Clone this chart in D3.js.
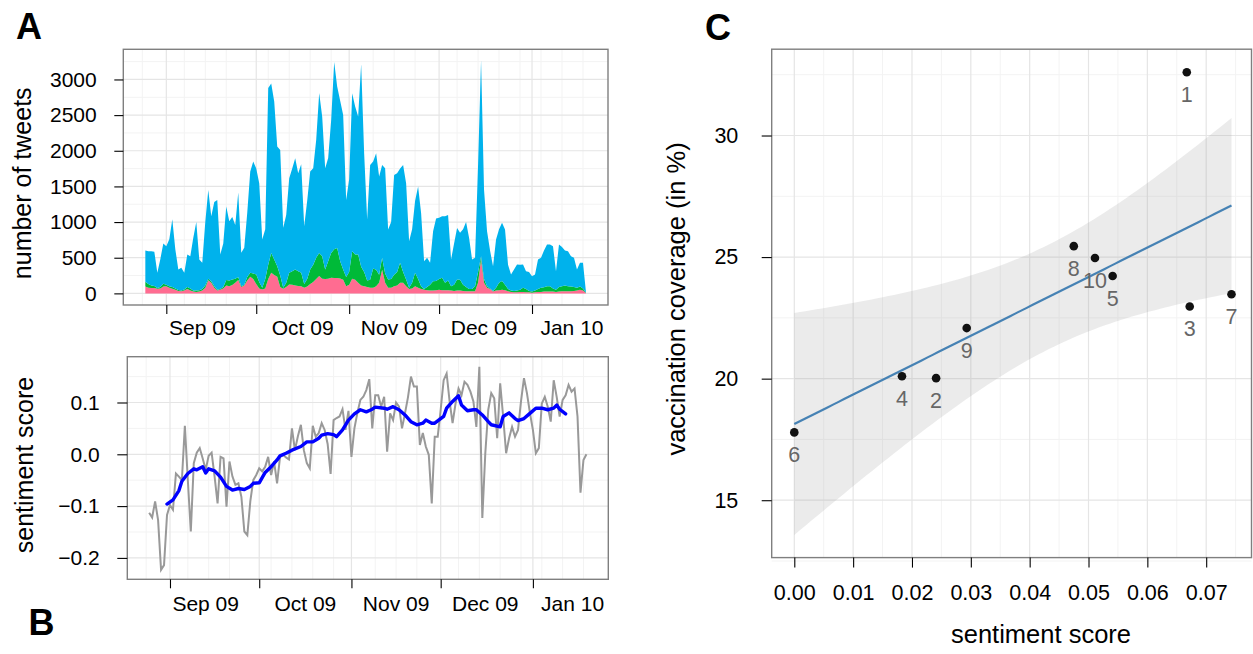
<!DOCTYPE html>
<html>
<head>
<meta charset="utf-8">
<title>Tweets, sentiment and vaccination coverage</title>
<script src="https://d3js.org/d3.v7.min.js"></script>
<style>
  body { margin: 0; background: #fff; }
  svg text { font-family: "Liberation Sans", Arial, Helvetica, sans-serif; }
</style>
</head>
<body>
<svg width="1253" height="654"></svg>
<script>
// ---- data: daily tweet counts from 25 Aug 2009, stacked pink / green / blue
const firstDay = Date.UTC(2009, 7, 25);

const pinkTweets = [
  95,80,75,75,65,70,95,100,80,65, 50,35,30,40,60,40,25,20,25,40,
  80,185,150,80,40,50,70,110,100,116, 150,186,90,110,180,233,200,130,70,56,
  70,200,290,256,233,90,65,90,126,120, 110,105,100,80,95,130,160,200,242,205,
  200,205,219,215,215,210,190,100,120,205, 190,150,112,100,90,80,80,100,150,330,
  150,80,80,100,110,150,150,100,60,70, 100,80,60,50,45,40,40,45,50,45,
  45,45,40,35,40,40,35,30,30,30, 30,150,475,150,80,60,25,40,45,50,
  45,30,20,15,15,20,20,15,15,10, 15,20,20,25,25,25,25,20,25,30,
  30,30,30,35,40,50,40,5
];
const greenTweets = [
  68,50,35,30,10,20,40,20,20,25, 20,12,10,15,30,30,15,20,20,20,
  30,20,20,20,10,10,20,76,80,80, 55,44,10,10,50,57,80,135,90,24,
  130,200,278,219,147,160,15,60,164,190, 225,205,190,50,105,205,240,300,326,315,
  135,245,349,405,423,240,145,130,180,387, 355,395,260,200,90,110,270,230,110,168,
  130,116,120,160,190,278,150,96,20,80, 190,120,40,10,45,80,130,127,150,174,
  105,135,60,85,156,150,85,60,30,30, 70,150,45,50,20,10,10,40,105,122,
  75,30,20,20,25,30,60,45,20,15, 25,40,60,60,75,75,45,30,65,70,
  80,70,65,55,40,45,30,5
];
const blueTweets = [
  437,460,480,480,215,390,565,540,660,950, 550,288,320,235,455,450,740,960,430,370,
  890,1245,910,1180,1260,485,610,1034,830,874, 755,1185,470,520,900,1420,1570,1485,1385,675,
  700,2480,2377,2215,1680,1760,840,950,1325,1440, 1560,1375,1520,810,1100,1375,1355,1650,2242,1960,
  1420,1450,1862,2625,2262,2250,2165,1080,1300,2213, 2075,1935,2843,1665,855,1610,1500,1635,1380,1302,
  1475,699,800,1400,1385,1322,1500,1349,650,750, 1010,1300,1027,390,410,310,700,878,860,861,
  930,920,375,580,722,660,780,910,720,415, 400,1500,2750,1250,770,530,345,675,750,818,
  775,340,225,300,365,350,325,250,265,215, 225,415,420,515,585,585,590,260,595,550,
  490,490,425,410,255,335,360,10
];
const tweetTicks = [0, 500, 1000, 1500, 2000, 2500, 3000];

// daily sentiment score (grey) and its running smooth (blue)
const dailySentiment = [
  -0.113,-0.122,-0.091,-0.127,-0.223,-0.214,-0.117,-0.098,-0.107,-0.037,
  -0.043,-0.050,0.055,-0.050,-0.149,-0.017,0.003,0.012,-0.008,-0.030,
  -0.003,0.003,-0.043,-0.095,-0.005,-0.008,-0.101,-0.014,-0.043,-0.059,
  -0.056,-0.082,-0.149,-0.156,-0.091,-0.050,-0.040,-0.027,-0.033,-0.024,
  -0.005,-0.040,-0.014,-0.056,-0.005,-0.001,-0.006,-0.010,0.050,0.008,
  0.035,0.057,0.008,-0.017,-0.027,0.055,0.034,0.041,0.060,0.047,
  0.020,-0.038,0.066,0.070,0.073,0.087,0.047,0.084,-0.005,0.050,
  0.080,0.105,0.111,0.124,0.145,0.050,0.114,0.114,0.092,0.111,
  0.005,0.079,0.066,0.100,0.092,0.050,0.079,0.110,0.150,0.131,
  0.131,0.018,0.041,0.015,-0.001,-0.095,0.034,0.034,0.086,0.143,
  0.156,0.102,0.060,0.098,0.127,0.114,0.140,0.134,0.121,0.102,
  0.053,0.169,-0.123,0.002,0.086,0.118,0.108,0.031,0.137,0.073,
  0.002,0.031,0.053,0.034,0.047,0.102,0.147,0.118,0.080,0.047,
  0.002,0.012,0.098,0.111,0.092,0.063,0.143,0.111,0.073,0.105,
  0.114,0.134,0.121,0.127,0.073,-0.074,-0.011,0.000
];
const smoothDay = [6,8,10,11,13,15,16,18,19,20,22,24,26,28,30,32,34,35,37,39,
  41,43,44,46,48,51,53,55,57,58,60,62,63,65,67,69,71,73,75,76,
  79,80,82,84,86,88,90,92,93,95,96,99,100,102,104,105,107,109,110,112,
  114,115,118,119,121,123,124,126,128,130,132,134,136,137,138,140];
const smoothSentiment = [-0.096,-0.088,-0.070,-0.052,-0.037,-0.028,-0.030,-0.024,-0.036,-0.028,
  -0.032,-0.044,-0.062,-0.069,-0.066,-0.068,-0.062,-0.056,-0.055,-0.035,
  -0.024,-0.011,-0.003,0.002,0.008,0.015,0.024,0.024,0.031,0.037,
  0.040,0.038,0.034,0.047,0.066,0.078,0.086,0.082,0.087,0.091,
  0.089,0.087,0.092,0.086,0.076,0.063,0.057,0.060,0.066,0.060,
  0.060,0.073,0.089,0.102,0.113,0.095,0.084,0.086,0.086,0.076,
  0.063,0.057,0.053,0.073,0.080,0.069,0.065,0.069,0.079,0.089,
  0.089,0.086,0.089,0.095,0.087,0.078];
const sentimentTicks = [-0.2, -0.1, 0, 0.1];

const monthLabels = ["Sep 09", "Oct 09", "Nov 09", "Dec 09", "Jan 10"];
const monthLabelAt = [Date.UTC(2009,8,13), Date.UTC(2009,9,16,12), Date.UTC(2009,10,16),
  Date.UTC(2009,11,16), Date.UTC(2010,0,14,8)];

// panel C: regions
const regionLabel = ["1","2","3","4","5","6","7","8","9","10"];
const regionSentiment = [0.0667, 0.0241, 0.0672, 0.0183, 0.0541, 0.0000, 0.0743, 0.0475, 0.0293, 0.0511];
const regionCoverage = [32.60, 20.02, 22.97, 20.10, 24.22, 17.79, 23.47, 25.45, 22.08, 24.96];
const coverageTicks = [15, 20, 25, 30];
const scoreTicks = [0, 0.01, 0.02, 0.03, 0.04, 0.05, 0.06, 0.07];

// ---- helpers
const svg = d3.select("svg");
const day = i => new Date(firstDay + i * 864e5);
const dates = pinkTweets.map((v, i) => day(i));
const MAJOR = "#e5e5e5", MINOR = "#f3f3f3";

svg.append("rect").attr("width", 1253).attr("height", 654).attr("fill", "#fff");

function grid(g, x, y, box, xMaj, xMin, yMaj, yMin) {
  const v = (vals, col, w) => g.append("g").selectAll("line").data(vals).join("line")
    .attr("x1", d => x(d)).attr("x2", d => x(d)).attr("y1", box.t).attr("y2", box.b)
    .attr("stroke", col).attr("stroke-width", w);
  const h = (vals, col, w) => g.append("g").selectAll("line").data(vals).join("line")
    .attr("y1", d => y(d)).attr("y2", d => y(d)).attr("x1", box.l).attr("x2", box.r)
    .attr("stroke", col).attr("stroke-width", w);
  v(xMin, MINOR, 1); h(yMin, MINOR, 1);
  v(xMaj, MAJOR, 1.2); h(yMaj, MAJOR, 1.2);
}

function frame(g, box) {
  g.append("rect").attr("x", box.l).attr("y", box.t)
    .attr("width", box.r - box.l).attr("height", box.b - box.t)
    .attr("fill", "none").attr("stroke", "#7f7f7f").attr("stroke-width", 1.4);
}

function styleAxis(a) {
  a.select(".domain").remove();
  a.selectAll("line").attr("stroke", "#000").attr("stroke-width", 1.1);
  a.selectAll("text").attr("font-size", 21).attr("fill", "#000");
}

const monthStarts = d3.utcMonth.range(Date.UTC(2009, 8, 1), Date.UTC(2010, 0, 2));
const mondays = d3.utcMonday.range(Date.UTC(2009, 7, 20), Date.UTC(2010, 0, 20)).filter(d => {
  const since = (d - d3.utcMonth.floor(d)) / 864e5;
  const until = (d3.utcMonth.ceil(d) - d) / 864e5;
  return since > 1 && until > 3;
});

// ---- panel A: number of tweets
const boxA = {l: 123.3, r: 608, t: 49.3, b: 305};
const xA = d3.scaleUtc().domain([day(-7.35), day(154.35)]).range([boxA.l, boxA.r]);
const yA = d3.scaleLinear().domain([-163, 3423]).range([boxA.b, boxA.t]);
const gA = svg.append("g");
grid(gA, xA, yA, boxA, monthStarts, mondays, tweetTicks, d3.range(250, 3300, 500));

const rows = dates.map((d, i) => ({date: d, pink: pinkTweets[i], green: greenTweets[i], blue: blueTweets[i]}));
const stacked = d3.stack().keys(["pink", "green", "blue"])(rows);
const fills = {pink: "#ff6c91", green: "#00ba38", blue: "#00b2ec"};
const area = d3.area().x(d => xA(d.data.date)).y0(d => yA(d[0])).y1(d => yA(d[1]));
gA.selectAll(".layer").data(stacked).join("path")
  .attr("class", "layer").attr("d", area).attr("fill", d => fills[d.key]);
frame(gA, boxA);

gA.append("g").attr("transform", `translate(${boxA.l},0)`)
  .call(d3.axisLeft(yA).tickValues(tweetTicks).tickFormat(d3.format("d")).tickSize(9).tickPadding(17.6))
  .call(styleAxis);
gA.append("g").attr("transform", `translate(0,${boxA.b})`)
  .call(d3.axisBottom(xA).tickValues(monthStarts).tickFormat(() => "").tickSize(9)).call(styleAxis);
gA.selectAll(".mlab").data(monthLabels).join("text").attr("class", "mlab")
  .attr("x", (d, i) => xA(monthLabelAt[i])).attr("y", 334.5)
  .attr("text-anchor", "middle").attr("font-size", 21).text(d => d);
gA.append("text").attr("transform", "translate(31,183.3) rotate(-90)")
  .attr("text-anchor", "middle").attr("font-size", 25).text("number of tweets");

// ---- panel B: sentiment score
const boxB = {l: 127.3, r: 608.3, t: 356.7, b: 579.3};
const xB = d3.scaleUtc().domain(xA.domain()).range([boxB.l, boxB.r]);
const yB = d3.scaleLinear().domain([-0.2413, 0.1884]).range([boxB.b, boxB.t]);
const gB = svg.append("g");
grid(gB, xB, yB, boxB, monthStarts, mondays, sentimentTicks, [-0.15, -0.05, 0.05, 0.15]);

gB.append("path").datum(dailySentiment)
  .attr("d", d3.line().x((d, i) => xB(day(i))).y(d => yB(d)))
  .attr("fill", "none").attr("stroke", "#999").attr("stroke-width", 2);
gB.append("path").datum(smoothSentiment)
  .attr("d", d3.line().x((d, i) => xB(day(smoothDay[i]))).y(d => yB(d)))
  .attr("fill", "none").attr("stroke", "#0000ff").attr("stroke-width", 3.4)
  .attr("stroke-linejoin", "round").attr("stroke-linecap", "round");
frame(gB, boxB);

gB.append("g").attr("transform", `translate(${boxB.l},0)`)
  .call(d3.axisLeft(yB).tickValues(sentimentTicks).tickFormat(d3.format(".1f")).tickSize(10).tickPadding(17.5))
  .call(styleAxis);
gB.append("g").attr("transform", `translate(0,${boxB.b})`)
  .call(d3.axisBottom(xB).tickValues(monthStarts).tickFormat(() => "").tickSize(9)).call(styleAxis);
gB.selectAll(".mlab").data(monthLabels).join("text").attr("class", "mlab")
  .attr("x", (d, i) => xB(monthLabelAt[i])).attr("y", 610.5)
  .attr("text-anchor", "middle").attr("font-size", 21).text(d => d);
gB.append("text").attr("transform", "translate(33.3,465) rotate(-90)")
  .attr("text-anchor", "middle").attr("font-size", 25).text("sentiment score");

// ---- panel C: vaccination coverage vs sentiment
const boxC = {l: 771.7, r: 1251.5, t: 49.2, b: 557.6};
const xC = d3.scaleLinear().domain([-0.00384, 0.0777]).range([boxC.l, boxC.r]);
const yC = d3.scaleLinear().domain([12.64, 33.55]).range([boxC.b, boxC.t]);
const gC = svg.append("g");
grid(gC, xC, yC, boxC, scoreTicks, d3.range(0.005, 0.08, 0.01), coverageTicks, [12.5, 17.5, 22.5, 27.5, 32.5]);

// linear fit with 95% band (as geom_smooth(method = "lm"))
const n = regionSentiment.length;
const mx = d3.mean(regionSentiment), my = d3.mean(regionCoverage);
const sxx = d3.sum(regionSentiment, v => (v - mx) ** 2);
const slope = d3.sum(regionSentiment, (v, i) => (v - mx) * (regionCoverage[i] - my)) / sxx;
const icpt = my - slope * mx;
const sRes = Math.sqrt(d3.sum(regionSentiment, (v, i) => (regionCoverage[i] - icpt - slope * v) ** 2) / (n - 2));
const tCrit = 2.306; // qt(0.975, df = 8)
const [x0, x1] = d3.extent(regionSentiment);
const fit = d3.range(80).map(k => {
  const x = x0 + k * (x1 - x0) / 79;
  const yh = icpt + slope * x;
  const se = sRes * Math.sqrt(1 / n + (x - mx) ** 2 / sxx);
  return {x, y: yh, lo: yh - tCrit * se, hi: yh + tCrit * se};
});
gC.append("path").datum(fit)
  .attr("d", d3.area().x(d => xC(d.x)).y0(d => yC(d.lo)).y1(d => yC(d.hi)))
  .attr("fill", "#999").attr("fill-opacity", 0.2);
gC.append("path").datum(fit)
  .attr("d", d3.line().x(d => xC(d.x)).y(d => yC(d.y)))
  .attr("fill", "none").attr("stroke", "#4682b4").attr("stroke-width", 2.2);

gC.selectAll(".pt").data(regionLabel).join("circle").attr("class", "pt")
  .attr("cx", (d, i) => xC(regionSentiment[i])).attr("cy", (d, i) => yC(regionCoverage[i]))
  .attr("r", 4.3).attr("fill", "#111");
gC.selectAll(".plab").data(regionLabel).join("text").attr("class", "plab")
  .attr("x", (d, i) => xC(regionSentiment[i])).attr("y", (d, i) => yC(regionCoverage[i]) + 30)
  .attr("text-anchor", "middle").attr("font-size", 21.5).attr("fill", "#666").text(d => d);
frame(gC, boxC);

gC.append("g").attr("transform", `translate(${boxC.l},0)`)
  .call(d3.axisLeft(yC).tickValues(coverageTicks).tickSize(10).tickPadding(23.4)).call(styleAxis);
gC.append("g").attr("transform", `translate(0,${boxC.b})`)
  .call(d3.axisBottom(xC).tickValues(scoreTicks).tickFormat(d3.format(".2f")).tickSize(10).tickPadding(17.4))
  .call(styleAxis);
gC.selectAll("text").filter(function () { return this.parentNode.classList.contains("tick"); })
  .attr("font-size", 21.5);
gC.append("text").attr("x", 1041).attr("y", 643).attr("text-anchor", "middle")
  .attr("font-size", 25.5).text("sentiment score");
gC.append("text").attr("transform", "translate(685,299) rotate(-90)")
  .attr("text-anchor", "middle").attr("font-size", 25.5).text("vaccination coverage (in %)");

// ---- panel letters
[["A", 16, 38.5], ["B", 28.5, 635], ["C", 705, 39.5]].forEach(([t, x, y]) =>
  svg.append("text").attr("x", x).attr("y", y).attr("font-size", 36)
    .attr("font-weight", "bold").text(t));
</script>
</body>
</html>
